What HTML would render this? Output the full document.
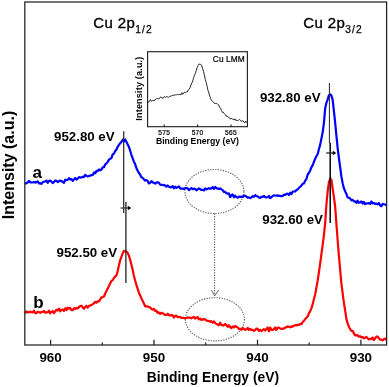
<!DOCTYPE html>
<html><head><meta charset="utf-8"><title>Cu 2p XPS</title>
<style>
html,body{margin:0;padding:0;background:#fff;}
body{width:389px;height:387px;overflow:hidden;}
svg{display:block;font-family:"Liberation Sans",sans-serif;will-change:transform;}
text{fill:#000;}
.tl{font-size:13.4px;font-weight:bold;}
.pk{font-size:13.3px;font-weight:bold;}
.ttl{font-size:15px;stroke:#000;stroke-width:0.35px;letter-spacing:0.4px;}
.sub{font-size:10.2px;stroke:#000;stroke-width:0.25px;letter-spacing:1.2px;}
.ab{font-size:17px;font-weight:bold;}
.itl{font-size:6.6px;stroke:#000;stroke-width:0.2px;letter-spacing:0.25px;}
.ilab{font-size:8.7px;font-weight:bold;}
.ax line,.ax rect{stroke:#222;stroke-width:1.25;fill:none;}
.iax line,.iax rect{stroke:#1a1a1a;stroke-width:1.1;fill:none;}
</style></head>
<body>
<svg width="389" height="387" viewBox="0 0 389 387">
<rect width="389" height="387" fill="#fff"/>
<!-- annotations: dotted ellipses and arrow -->
<g fill="none" stroke="#585858" stroke-width="1.1" stroke-dasharray="1.25 1.3">
<ellipse cx="214.4" cy="191.5" rx="29.5" ry="22"/>
<ellipse cx="214.9" cy="319.3" rx="29.5" ry="21.6"/>
<line x1="214.6" y1="213.5" x2="214.6" y2="295"/>
</g>
<path d="M211.4,290 L214.7,296 L218.5,290" fill="none" stroke="#555" stroke-width="0.9"/>
<!-- spectra -->
<path d="M25.2,184.2 L26.4,182.9 L27.7,182.6 L28.9,180.8 L30.2,182.3 L31.4,182.3 L32.7,182.5 L34.0,182.0 L35.2,182.6 L36.5,182.1 L37.7,181.3 L39.0,183.3 L40.2,183.2 L41.5,183.9 L42.7,182.2 L44.0,181.7 L45.2,181.5 L46.5,180.5 L47.7,182.8 L49.0,180.8 L50.2,180.7 L51.5,181.6 L52.7,183.1 L54.0,181.9 L55.2,180.6 L56.5,180.9 L57.7,182.0 L59.0,181.2 L60.2,180.6 L61.5,181.0 L62.7,181.8 L64.0,182.8 L65.2,179.7 L66.5,180.1 L67.7,179.8 L69.0,178.2 L70.2,179.4 L71.5,179.1 L72.7,180.8 L74.0,179.5 L75.2,178.0 L76.5,179.7 L77.7,178.6 L79.0,177.1 L80.2,177.7 L81.5,177.4 L82.7,176.8 L84.0,177.1 L85.2,174.8 L86.5,176.0 L87.7,176.5 L89.0,175.9 L90.2,175.6 L91.5,175.1 L92.7,174.9 L94.0,172.4 L95.2,173.4 L96.5,170.8 L97.7,171.1 L99.0,169.4 L100.2,170.4 L101.5,169.5 L102.7,167.3 L104.0,167.2 L105.2,164.4 L106.5,163.4 L107.7,161.9 L109.0,159.6 L110.2,158.8 L111.5,157.9 L112.7,154.4 L114.0,153.6 L115.2,150.9 L116.5,149.5 L117.7,146.7 L119.0,144.9 L120.2,143.2 L121.5,141.8 L122.7,139.7 L124.0,141.3 L125.2,139.4 L126.5,142.1 L127.7,144.5 L128.9,146.8 L130.2,150.7 L131.4,154.8 L132.7,158.3 L133.9,161.7 L135.2,164.3 L136.4,168.1 L137.7,170.7 L138.9,173.0 L140.2,174.7 L141.4,177.2 L142.7,177.9 L143.9,179.3 L145.2,180.6 L146.4,180.0 L147.7,181.0 L148.9,183.4 L150.2,182.8 L151.4,181.1 L152.7,182.3 L153.9,182.9 L155.2,183.6 L156.4,182.6 L157.7,182.3 L158.9,182.8 L160.2,184.6 L161.4,185.0 L162.7,184.8 L163.9,185.3 L165.2,185.4 L166.4,186.6 L167.7,185.5 L168.9,186.8 L170.2,187.3 L171.4,187.2 L172.7,186.2 L173.9,188.3 L175.2,186.7 L176.4,187.9 L177.7,187.1 L178.9,186.4 L180.2,188.4 L181.4,188.7 L182.7,188.6 L183.9,189.0 L185.2,188.2 L186.4,188.0 L187.7,188.4 L188.9,190.1 L190.2,189.1 L191.4,188.0 L192.7,189.2 L193.9,188.7 L195.2,188.9 L196.4,190.3 L197.7,189.3 L198.9,188.4 L200.2,189.1 L201.4,190.0 L202.7,189.8 L203.9,190.4 L205.2,188.4 L206.4,189.4 L207.7,188.8 L208.9,188.1 L210.2,188.8 L211.4,188.4 L212.7,187.1 L213.9,188.9 L215.2,187.0 L216.4,188.3 L217.7,188.4 L218.9,189.0 L220.2,188.4 L221.4,189.4 L222.7,190.1 L223.9,192.0 L225.2,191.9 L226.4,193.3 L227.7,193.7 L228.9,193.4 L230.2,197.1 L231.4,195.3 L232.7,194.5 L233.9,197.3 L235.2,195.6 L236.4,197.1 L237.7,197.8 L238.9,196.6 L240.2,196.8 L241.4,196.7 L242.7,197.0 L243.9,195.5 L245.2,195.8 L246.4,196.7 L247.7,197.7 L248.9,197.3 L250.2,198.2 L251.4,197.3 L252.7,196.2 L253.9,196.7 L255.2,195.1 L256.4,196.2 L257.7,196.3 L258.9,197.5 L260.2,197.9 L261.4,196.9 L262.7,196.8 L263.9,195.9 L265.2,197.1 L266.4,197.3 L267.7,197.2 L268.9,195.9 L270.2,198.1 L271.4,197.3 L272.7,196.0 L273.9,195.4 L275.2,195.5 L276.4,195.7 L277.7,195.4 L278.9,195.8 L280.2,195.9 L281.4,196.3 L282.7,195.9 L283.9,194.7 L285.2,194.9 L286.4,194.0 L287.7,193.6 L288.9,195.1 L290.2,192.7 L291.4,194.1 L292.7,191.7 L293.9,191.5 L295.2,191.5 L296.4,190.0 L297.7,189.4 L298.9,188.0 L300.2,186.7 L301.4,185.6 L302.7,183.8 L303.9,183.5 L305.2,180.6 L306.4,179.2 L307.7,174.5 L308.9,173.0 L310.2,170.5 L311.4,167.4 L312.7,165.1 L313.9,162.0 L315.2,158.7 L316.4,156.2 L317.7,154.0 L318.9,149.3 L320.2,144.6 L321.4,138.7 L322.7,132.1 L323.9,123.2 L325.2,108.2 L326.4,102.8 L327.7,99.4 L328.9,95.3 L330.2,94.4 L331.4,95.6 L332.7,99.8 L333.9,111.2 L335.2,123.1 L336.4,135.6 L337.7,148.4 L338.9,158.0 L340.2,167.3 L341.4,176.5 L342.7,183.4 L343.9,188.3 L345.2,191.4 L346.4,193.8 L347.7,197.5 L348.9,197.8 L350.2,198.5 L351.4,200.3 L352.7,199.9 L353.9,201.3 L355.2,201.4 L356.4,202.8 L357.7,200.7 L358.9,202.8 L360.2,202.4 L361.4,201.4 L362.7,203.5 L363.9,201.9 L365.2,204.2 L366.4,203.3 L367.7,203.5 L368.9,203.1 L370.2,203.9 L371.4,201.5 L372.7,203.4 L373.9,202.9 L375.2,203.8 L376.4,203.6 L377.7,204.3 L378.9,203.1 L380.2,205.6 L381.4,206.2 L382.7,203.9 L383.9,204.2 L385.2,204.5 L386.4,205.5" fill="none" stroke="#0000ff" stroke-width="2.2" stroke-linejoin="round" stroke-linecap="butt"/>
<path d="M25.2,313.5 L26.4,311.5 L27.7,312.1 L28.9,312.5 L30.2,311.5 L31.4,312.2 L32.7,312.3 L34.0,310.6 L35.2,313.3 L36.5,312.9 L37.7,311.7 L39.0,312.1 L40.2,312.8 L41.5,312.0 L42.7,312.0 L44.0,310.9 L45.2,312.7 L46.5,312.3 L47.7,312.4 L49.0,310.6 L50.2,313.4 L51.5,311.9 L52.7,311.2 L54.0,313.2 L55.2,311.2 L56.5,309.7 L57.7,310.5 L59.0,308.6 L60.2,311.4 L61.5,309.9 L62.7,309.5 L64.0,310.9 L65.2,308.3 L66.5,310.1 L67.7,307.6 L69.0,308.6 L70.2,308.0 L71.5,310.1 L72.7,310.2 L74.0,308.2 L75.2,309.0 L76.5,307.9 L77.7,308.4 L79.0,307.1 L80.2,306.0 L81.5,305.7 L82.7,307.4 L84.0,308.8 L85.2,306.8 L86.5,305.9 L87.7,307.7 L89.0,305.9 L90.2,305.5 L91.5,305.1 L92.7,304.2 L94.0,303.3 L95.2,301.8 L96.5,302.6 L97.7,301.4 L99.0,301.4 L100.2,299.4 L101.5,297.3 L102.7,297.1 L104.0,296.5 L105.2,293.5 L106.5,291.1 L107.7,288.6 L109.0,286.0 L110.2,283.4 L111.5,280.7 L112.7,280.3 L114.0,277.8 L115.2,276.6 L116.5,275.3 L117.7,271.1 L119.0,265.1 L120.2,260.2 L121.5,256.6 L122.7,253.3 L124.0,250.8 L125.2,251.4 L126.5,251.6 L127.7,253.0 L128.9,255.6 L130.2,260.0 L131.4,264.6 L132.7,270.1 L133.9,275.8 L135.2,280.7 L136.4,284.8 L137.7,288.9 L138.9,292.7 L140.2,295.5 L141.4,298.4 L142.7,300.9 L143.9,303.5 L145.2,306.3 L146.4,306.4 L147.7,306.4 L148.9,307.0 L150.2,307.4 L151.4,309.0 L152.7,309.6 L153.9,308.8 L155.2,310.9 L156.4,310.7 L157.7,312.8 L158.9,312.3 L160.2,314.0 L161.4,312.7 L162.7,313.2 L163.9,314.1 L165.2,315.0 L166.4,315.0 L167.7,313.7 L168.9,315.2 L170.2,315.4 L171.4,315.2 L172.7,315.3 L173.9,317.6 L175.2,315.9 L176.4,315.7 L177.7,317.2 L178.9,316.9 L180.2,317.0 L181.4,317.9 L182.7,317.8 L183.9,317.9 L185.2,318.6 L186.4,318.1 L187.7,317.4 L188.9,317.7 L190.2,317.7 L191.4,318.4 L192.7,317.4 L193.9,316.8 L195.2,318.7 L196.4,317.5 L197.7,317.1 L198.9,319.4 L200.2,318.6 L201.4,319.9 L202.7,319.3 L203.9,319.2 L205.2,319.4 L206.4,320.4 L207.7,321.0 L208.9,320.9 L210.2,321.7 L211.4,321.1 L212.7,322.7 L213.9,321.4 L215.2,323.0 L216.4,324.0 L217.7,324.6 L218.9,325.3 L220.2,322.7 L221.4,324.9 L222.7,325.4 L223.9,325.4 L225.2,323.9 L226.4,325.3 L227.7,326.9 L228.9,325.1 L230.2,327.3 L231.4,328.0 L232.7,326.3 L233.9,327.4 L235.2,326.0 L236.4,326.8 L237.7,327.5 L238.9,328.9 L240.2,328.8 L241.4,329.8 L242.7,328.0 L243.9,328.8 L245.2,329.8 L246.4,329.5 L247.7,327.9 L248.9,329.8 L250.2,328.9 L251.4,329.8 L252.7,329.9 L253.9,330.9 L255.2,330.1 L256.4,328.5 L257.7,328.9 L258.9,330.8 L260.2,329.9 L261.4,331.0 L262.7,330.1 L263.9,329.1 L265.2,330.6 L266.4,328.8 L267.7,327.5 L268.9,331.3 L270.2,327.5 L271.4,329.8 L272.7,330.0 L273.9,329.2 L275.2,327.5 L276.4,329.9 L277.7,327.6 L278.9,327.6 L280.2,328.4 L281.4,329.1 L282.7,328.5 L283.9,328.7 L285.2,327.3 L286.4,327.3 L287.7,326.3 L288.9,326.7 L290.2,327.3 L291.4,326.3 L292.7,326.7 L293.9,325.5 L295.2,325.2 L296.4,325.4 L297.7,324.8 L298.9,324.9 L300.2,323.9 L301.4,324.3 L302.7,322.0 L303.9,320.9 L305.2,319.0 L306.4,317.9 L307.7,316.4 L308.9,313.4 L310.2,311.1 L311.4,308.4 L312.7,304.2 L313.9,299.2 L315.2,294.2 L316.4,287.6 L317.7,280.5 L318.9,272.3 L320.2,263.4 L321.4,254.1 L322.7,244.9 L323.9,235.2 L325.2,222.8 L326.4,204.8 L327.7,191.0 L328.9,182.4 L330.2,178.6 L331.4,179.8 L332.7,189.0 L333.9,196.8 L335.2,207.0 L336.4,223.6 L337.7,241.0 L338.9,255.7 L340.2,270.1 L341.4,283.6 L342.7,293.6 L343.9,302.7 L345.2,310.8 L346.4,319.1 L347.7,323.6 L348.9,326.7 L350.2,329.2 L351.4,330.8 L352.7,330.8 L353.9,333.5 L355.2,335.3 L356.4,335.2 L357.7,335.4 L358.9,336.6 L360.2,336.2 L361.4,337.4 L362.7,337.0 L363.9,338.4 L365.2,337.7 L366.4,336.9 L367.7,338.4 L368.9,339.3 L370.2,338.7 L371.4,339.1 L372.7,337.5 L373.9,340.0 L375.2,338.3 L376.4,336.6 L377.7,336.5 L378.9,338.3 L380.2,339.6 L381.4,339.6 L382.7,340.4 L383.9,339.0 L385.2,338.6 L386.4,340.0" fill="none" stroke="#ff0000" stroke-width="2.2" stroke-linejoin="round" stroke-linecap="butt"/>
<!-- peak marker lines -->
<g stroke="#222" fill="none">
<line x1="123.7" y1="131.3" x2="123.7" y2="213" stroke-width="1.2"/>
<line x1="125.9" y1="202" x2="125.9" y2="283" stroke-width="1.3"/>
<line x1="120.5" y1="208" x2="128.5" y2="208" stroke-width="1.2" stroke="#333"/>
<line x1="329.4" y1="83" x2="329.4" y2="143" stroke-width="1"/>
<line x1="330.2" y1="142.8" x2="330.2" y2="223" stroke-width="1.5" stroke="#000"/>
<line x1="326.2" y1="153" x2="333.5" y2="153" stroke-width="1.3"/>
</g>
<path d="M127.8,205.8 L131.3,208 L127.8,210.2 Z" fill="#000"/>
<path d="M332.8,150.8 L336.3,153 L332.8,155.2 Z" fill="#000"/>
<!-- main axes -->
<g class="ax">
<rect x="24.8" y="2.0" width="361.8" height="343.0"/>
<line x1="50.6" y1="345.0" x2="50.6" y2="339.8"/><line x1="154.0" y1="345.0" x2="154.0" y2="339.8"/><line x1="257.5" y1="345.0" x2="257.5" y2="339.8"/><line x1="360.9" y1="345.0" x2="360.9" y2="339.8"/><line x1="102.3" y1="345.0" x2="102.3" y2="342.4"/><line x1="205.7" y1="345.0" x2="205.7" y2="342.4"/><line x1="309.2" y1="345.0" x2="309.2" y2="342.4"/>
</g>
<text x="50.6" y="362.4" text-anchor="middle" class="tl">960</text><text x="154.0" y="362.4" text-anchor="middle" class="tl">950</text><text x="257.5" y="362.4" text-anchor="middle" class="tl">940</text><text x="360.9" y="362.4" text-anchor="middle" class="tl">930</text>
<text x="212.9" y="382.4" text-anchor="middle" style="font-size:13.85px;font-weight:bold;">Binding Energy (eV)</text>
<text transform="translate(14.1,165) rotate(-90)" text-anchor="middle" style="font-size:16px;font-weight:bold;">Intensity (a.u.)</text>
<!-- titles -->
<text x="93.2" y="28.3" class="ttl">Cu 2p<tspan class="sub" dy="4.6">1/2</tspan></text>
<text x="303.2" y="28.3" class="ttl">Cu 2p<tspan class="sub" dy="4.6">3/2</tspan></text>
<!-- peak labels -->
<text x="54" y="141" class="pk">952.80 eV</text>
<text x="56.5" y="256.7" class="pk">952.50 eV</text>
<text x="259.9" y="101.6" class="pk">932.80 eV</text>
<text x="262.3" y="224" class="pk">932.60 eV</text>
<text x="32.6" y="177.5" class="ab">a</text>
<text x="33.2" y="307.5" class="ab">b</text>
<!-- inset -->
<rect x="147.6" y="51.7" width="99.80000000000001" height="75.0" fill="#fff"/>
<path d="M147.7,103.1 L148.6,101.6 L149.5,101.3 L150.4,99.6 L151.3,101.2 L152.2,100.7 L153.1,100.3 L154.0,100.5 L154.9,100.2 L155.8,98.9 L156.7,98.6 L157.6,98.5 L158.5,98.9 L159.4,98.6 L160.3,97.1 L161.2,97.0 L162.1,98.0 L163.0,98.4 L163.9,97.1 L164.8,96.5 L165.7,97.5 L166.6,96.4 L167.5,96.9 L168.4,97.4 L169.3,96.6 L170.2,96.1 L171.1,96.4 L172.0,95.3 L172.9,95.5 L173.8,95.1 L174.7,95.2 L175.6,94.8 L176.5,94.8 L177.4,94.5 L178.3,94.7 L179.2,94.4 L180.1,94.4 L181.0,94.9 L181.9,92.7 L182.8,94.3 L183.7,93.1 L184.6,92.1 L185.5,92.4 L186.4,92.1 L187.3,92.0 L188.2,90.0 L189.1,89.2 L190.0,87.7 L190.9,85.1 L191.8,83.1 L192.7,81.1 L193.6,77.7 L194.5,75.1 L195.4,73.3 L196.3,70.2 L197.2,67.4 L198.1,65.7 L199.0,64.1 L199.9,64.2 L200.8,64.5 L201.7,65.2 L202.6,68.6 L203.5,71.3 L204.4,75.1 L205.3,79.5 L206.2,82.5 L207.1,86.3 L208.0,90.5 L208.9,93.1 L209.8,96.1 L210.7,98.6 L211.6,100.3 L212.5,101.4 L213.4,102.1 L214.3,103.3 L215.2,103.5 L216.1,103.6 L217.0,103.6 L217.9,104.5 L218.8,105.0 L219.7,107.6 L220.6,108.2 L221.5,110.7 L222.4,112.4 L223.3,112.2 L224.2,113.4 L225.1,114.4 L226.0,116.0 L226.9,115.9 L227.8,117.0 L228.7,117.3 L229.6,117.9 L230.5,119.2 L231.4,118.1 L232.3,119.1 L233.2,119.4 L234.1,120.0 L235.0,118.8 L235.9,120.6 L236.8,120.3 L237.7,120.7 L238.6,120.3 L239.5,119.3 L240.4,120.1 L241.3,121.3 L242.2,120.8 L243.1,120.9 L244.0,122.3 L244.9,122.7 L245.8,121.1 L246.7,122.6" fill="none" stroke="#111" stroke-width="0.9" stroke-linejoin="round"/>
<g class="iax">
<rect x="147.6" y="51.7" width="99.80000000000001" height="75.0"/>
<line x1="164.2" y1="126.7" x2="164.2" y2="124.5"/><line x1="197.6" y1="126.7" x2="197.6" y2="124.5"/><line x1="231.0" y1="126.7" x2="231.0" y2="124.5"/>
</g>
<text x="164.2" y="135.3" text-anchor="middle" class="itl">575</text><text x="197.6" y="135.3" text-anchor="middle" class="itl">570</text><text x="231.0" y="135.3" text-anchor="middle" class="itl">565</text>
<text x="197.4" y="144.3" text-anchor="middle" class="ilab">Binding Energy (eV)</text>
<text transform="translate(142.4,88.6) rotate(-90)" text-anchor="middle" style="font-size:9px;font-weight:bold;letter-spacing:0.2px;">Intensity (a.u.)</text>
<text x="244.9" y="62.3" text-anchor="end" style="font-size:8.3px;stroke:#000;stroke-width:0.22px;letter-spacing:0.12px;">Cu LMM</text>
</svg>
</body></html>
